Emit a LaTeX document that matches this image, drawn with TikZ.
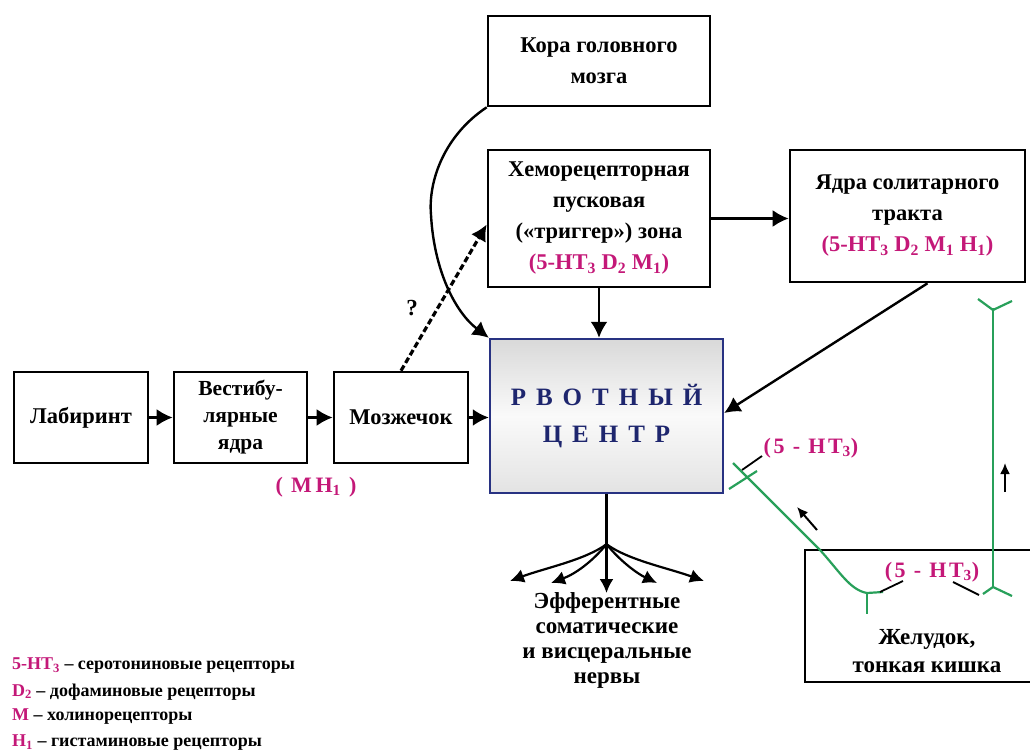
\documentclass[tikz,border=0pt]{standalone}
\usepackage{fontspec}
\setmainfont{Liberation Serif}
\usetikzlibrary{arrows.meta,calc}
\definecolor{pinkc}{RGB}{196,24,120}
\definecolor{navyc}{RGB}{30,38,110}
\definecolor{greenc}{RGB}{40,160,90}
\definecolor{edgec}{RGB}{40,50,130}
\begin{document}
\begin{tikzpicture}[x=1pt,y=-1pt,
  box/.style={draw=black,line width=2.6pt,fill=white,align=center,inner sep=0pt,
    font=\fontsize{22.5}{31}\selectfont\bfseries},
  plain/.style={align=center,inner sep=0pt,font=\fontsize{23}{25}\selectfont\bfseries},
  pinklab/.style={inner sep=0pt,text=pinkc,font=\fontsize{22}{25}\selectfont\bfseries\addfontfeature{LetterSpace=12}},
  legend/.style={anchor=west,inner sep=0pt,font=\fontsize{18}{20}\selectfont\bfseries},
  arr/.style={line width=2.4pt,-{Latex[length=16pt,width=17pt]}},
  fan/.style={line width=2.2pt,-{Latex[length=14pt,width=14pt]}},
  neuron/.style={draw=greenc,line width=2.2pt},
  recline/.style={line width=1.8pt},
  small/.style={line width=2pt,-{Latex[length=11pt,width=10pt]}}
]
\useasboundingbox (0,0) rectangle (1030,754);
\fill[white] (0,0) rectangle (1030,754);

% boxes
\node[box,minimum width=222pt,minimum height=90pt] (kora) at (599,61) {Кора головного\\мозга};
\node[box,minimum width=222pt,minimum height=137pt] (chemo) at (599,218.5)
  {Хеморецепторная\\пусковая\\(«триггер») зона\\\textcolor{pinkc}{(5-HT\textsubscript{3} D\textsubscript{2} M\textsubscript{1})}};
\node[box,minimum width=235pt,minimum height=132pt] (yadra) at (907.5,216)
  {Ядра солитарного\\тракта\\\textcolor{pinkc}{(5-HT\textsubscript{3} D\textsubscript{2} M\textsubscript{1} H\textsubscript{1})}};
\node[box,minimum width=134pt,minimum height=91pt] (lab) at (81,417.5) {Лабиринт};
\node[box,minimum width=133pt,minimum height=91pt,font=\fontsize{21.5}{27}\selectfont\bfseries] (vest) at (240.5,417.5) {Вестибу-\\лярные\\ядра};
\node[box,minimum width=134pt,minimum height=91pt] (mozz) at (401,417.5) {Мозжечок};
\node[draw=edgec,line width=2.4pt,minimum width=233pt,minimum height=154pt,inner sep=0pt,
  top color=gray!30,bottom color=gray!22,middle color=white!96!gray,align=center,text=navyc,
  font=\fontsize{25}{37}\selectfont\bfseries\addfontfeature{LetterSpace=40}] (center) at (606.5,416)
  {РВОТНЫЙ\\ЦЕНТР};
\node[box,minimum width=230pt,minimum height=132pt] (stomach) at (920,616) {};
\node[plain,font=\fontsize{23}{28}\selectfont\bfseries] (stomachtext) at (927,651) {Желудок,\\тонкая кишка};

% labels
\node[pinklab] (mh) at (316,487) {( M\,H\textsubscript{1} )};
\node[pinklab] (ht1) at (811,448) {(5 - HT\textsubscript{3})};
\node[pinklab] (ht2) at (932,572) {(5 - HT\textsubscript{3})};
\node[plain] (q) at (412,308) {?};
\node[plain] (eff) at (607,640) {Эфферентные\\соматические\\и висцеральные\\нервы};

% legend
\node[legend] (l1) at (12,666) {\textcolor{pinkc}{5-HT\textsubscript{3}} – серотониновые рецепторы};
\node[legend] (l2) at (12,692) {\textcolor{pinkc}{D\textsubscript{2}} – дофаминовые рецепторы};
\node[legend] (l3) at (12,717) {\textcolor{pinkc}{M} – холинорецепторы};
\node[legend] (l4) at (12,743) {\textcolor{pinkc}{H\textsubscript{1}} – гистаминовые рецепторы};

% arrows
\draw[arr] (lab.east) -- (vest.west);
\draw[arr] (vest.east) -- (mozz.west);
\draw[arr] (mozz.east) -- (mozz.east -| center.west);
\draw[arr] (chemo.east) -- (chemo.east -| yadra.west);
\draw[arr] (chemo.south) -- (chemo.south |- center.north);
\draw[arr] ($(yadra.south)+(20,0)$) -- ($(center.east)+(0,-3)$);
\draw[arr,dash pattern=on 6pt off 3pt,line width=3.2pt] (mozz.north) -- ($(chemo.west)+(0,6)$);
\draw[arr] (kora.south west) .. controls (445,135) and (428,180) .. (431,215)
  .. controls (434,270) and (455,312) .. (center.north west);

% efferent fan
\coordinate (hub) at ($(center.south)+(0,50)$);
\coordinate (e1) at (510,581);
\coordinate (e2) at (551,583);
\coordinate (e3) at (606.5,593);
\coordinate (e4) at (657,583);
\coordinate (e5) at (704,581);
\draw[line width=2.2pt] (center.south) -- (hub);
\draw[fan] (hub) .. controls (585,560) and (545,568) .. (e1);
\draw[fan] (hub) .. controls (592,562) and (575,574) .. (e2);
\draw[fan] (hub) -- (e3);
\draw[fan] (hub) .. controls (621,562) and (638,574) .. (e4);
\draw[fan] (hub) .. controls (628,560) and (668,568) .. (e5);

% green neurons
\draw[neuron] (733,463) -- (820,550) .. controls (840,572) and (850,590) .. (867,593) -- (883,592);
\draw[neuron] (867,593) -- (867,614);
\draw[neuron] (729,489) -- (757,471);
\draw[recline] (742,470) -- (762,456);
\draw[recline] (880,592) -- (903,581);
\draw[neuron] (993,308) -- (993,587);
\draw[neuron] (978,299) -- (993,310) -- (1012,301);
\draw[neuron] (983,594) -- (993,587) -- (1012,596);
\draw[recline] (979,595) -- (953,582);
\draw[small] (817,530) -- (797,507);
\draw[small] (1005,492) -- (1005,463);
\end{tikzpicture}
\end{document}
